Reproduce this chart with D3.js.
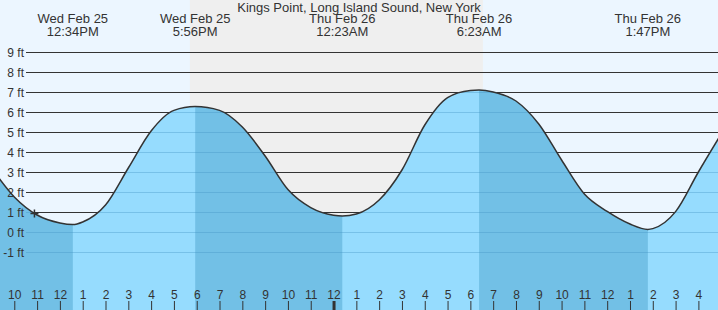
<!DOCTYPE html>
<html>
<head>
<meta charset="utf-8">
<script src="https://cdn.jsdelivr.net/npm/d3@7"></script>
<style>
body { margin: 0; background: #fff; }
svg { display: block; font-family: "Liberation Sans", Arial, sans-serif; }
</style>
</head>
<body>
<div></div>
<script>
var title = "Kings Point, Long Island Sound, New York";

// tide height readings (ft), hourly plus the turning points
var tideTimes = [
  "2026-02-25 09:00", "2026-02-25 10:00", "2026-02-25 11:00", "2026-02-25 12:00",
  "2026-02-25 12:34", "2026-02-25 13:00", "2026-02-25 14:00", "2026-02-25 15:00",
  "2026-02-25 16:00", "2026-02-25 17:00", "2026-02-25 17:56", "2026-02-25 19:00",
  "2026-02-25 20:00", "2026-02-25 21:00", "2026-02-25 22:00", "2026-02-25 23:00",
  "2026-02-26 00:00", "2026-02-26 00:23", "2026-02-26 01:00", "2026-02-26 02:00",
  "2026-02-26 03:00", "2026-02-26 04:00", "2026-02-26 05:00", "2026-02-26 06:00",
  "2026-02-26 06:23", "2026-02-26 07:00", "2026-02-26 08:00", "2026-02-26 09:00",
  "2026-02-26 10:00", "2026-02-26 11:00", "2026-02-26 12:00", "2026-02-26 13:00",
  "2026-02-26 13:47", "2026-02-26 14:00", "2026-02-26 15:00", "2026-02-26 16:00",
  "2026-02-26 17:00"
];
var tideFeet = [
  3.2, 1.75, 0.85, 0.45,
  0.37, 0.5, 1.35, 3.2,
  5.05, 6.08, 6.27, 6.08,
  5.25, 3.8, 2.12, 1.22,
  0.84, 0.8, 0.9, 1.6,
  3.1, 5.35, 6.72, 7.08,
  7.1, 7.0, 6.55, 5.4,
  3.6, 1.9, 1.03, 0.4,
  0.13, 0.17, 1.02, 3.0,
  4.9
];

var extremeTimes = ["2026-02-25 12:34", "2026-02-25 17:56", "2026-02-26 00:23", "2026-02-26 06:23", "2026-02-26 13:47"];
var extremeTypes = ["L", "H", "L", "H", "L"];

var sunset = "2026-02-25 17:42";
var sunrise = "2026-02-26 06:33";
var nowTime = "2026-02-25 10:53";
var nowFeet = 0.92;

var feetTicks = [-1, 0, 1, 2, 3, 4, 5, 6, 7, 8, 9];

function init() {
  var w = 718, h = 310;
  var parse = d3.timeParse("%Y-%m-%d %H:%M");

  var data = tideTimes.map(function(t, i) { return { t: parse(t), v: tideFeet[i] }; });

  var x = d3.scaleTime()
    .domain([new Date(2026, 1, 25, 9, 22, 23), new Date(2026, 1, 26, 16, 51, 35)])
    .range([0, w]);
  var y = d3.scaleLinear().domain([-1, 9]).range([252, 52]);

  var svg = d3.select("div").append("svg")
    .attr("width", w)
    .attr("height", h);

  // day / night
  svg.append("rect").attr("width", w).attr("height", h).attr("fill", "#ecf6ff");
  svg.append("rect")
    .attr("x", x(parse(sunset)))
    .attr("width", x(parse(sunrise)) - x(parse(sunset)))
    .attr("height", h)
    .attr("fill", "#efefef");

  // grid
  svg.selectAll(".grid")
    .data(feetTicks)
    .enter().append("line")
    .attr("x1", 26).attr("x2", w)
    .attr("y1", function(d) { return y(d) + 0.5; })
    .attr("y2", function(d) { return y(d) + 0.5; })
    .attr("stroke", "#333")
    .attr("stroke-width", 1);

  var area = d3.area()
    .curve(d3.curveMonotoneX)
    .x(function(d) { return x(d.t); })
    .y0(h)
    .y1(function(d) { return y(d.v); });

  var line = d3.line()
    .curve(d3.curveMonotoneX)
    .x(function(d) { return x(d.t); })
    .y(function(d) { return y(d.v); });

  svg.append("clipPath").attr("id", "water")
    .append("path").attr("d", area(data));

  svg.append("path").attr("d", area(data)).attr("fill", "#96dcfe");

  // falling tide is darker
  var ext = extremeTimes.map(parse);
  var falling = [];
  ext.forEach(function(t, i) {
    if (extremeTypes[i] == "L") {
      falling.push([i > 0 ? ext[i - 1] : x.domain()[0], t]);
    }
  });
  svg.append("g").attr("clip-path", "url(#water)")
    .selectAll("rect")
    .data(falling)
    .enter().append("rect")
    .attr("x", function(d) { return x(d[0]); })
    .attr("width", function(d) { return x(d[1]) - x(d[0]); })
    .attr("y", 0)
    .attr("height", h)
    .attr("fill", "#72c0e6");

  svg.append("g").attr("clip-path", "url(#water)")
    .selectAll("line")
    .data(feetTicks)
    .enter().append("line")
    .attr("x1", 26).attr("x2", w)
    .attr("y1", function(d) { return y(d) + 0.5; })
    .attr("y2", function(d) { return y(d) + 0.5; })
    .attr("stroke", "#3f8fc0")
    .attr("stroke-opacity", 0.35);

  svg.append("path")
    .attr("d", line(data))
    .attr("fill", "none")
    .attr("stroke", "#333")
    .attr("stroke-width", 1.5);

  // y labels
  svg.selectAll(".ylab")
    .data(feetTicks)
    .enter().append("text")
    .attr("x", 24)
    .attr("y", function(d) { return y(d) + 5; })
    .attr("text-anchor", "end")
    .attr("font-size", 12)
    .attr("fill", "#333")
    .text(function(d) { return d + " ft"; });

  // title and turning point labels
  svg.append("text")
    .attr("x", w / 2).attr("y", 12)
    .attr("text-anchor", "middle")
    .attr("font-size", 13)
    .attr("fill", "#333")
    .text(title);

  var fDay = d3.timeFormat("%a %b %d");
  var fTime = d3.timeFormat("%-I:%M%p");
  var lab = svg.selectAll(".ext")
    .data(ext)
    .enter().append("text")
    .attr("text-anchor", "middle")
    .attr("font-size", 13)
    .attr("fill", "#333");
  lab.append("tspan")
    .attr("x", function(d) { return x(d); })
    .attr("y", 23)
    .text(function(d) { return fDay(d); });
  lab.append("tspan")
    .attr("x", function(d) { return x(d); })
    .attr("y", 36)
    .text(function(d) { return fTime(d); });

  // hour axis
  var ax = svg.append("g")
    .attr("transform", "translate(0," + h + ")")
    .call(d3.axisTop(x)
      .ticks(d3.timeHour.every(1))
      .tickFormat(d3.timeFormat("%-I"))
      .tickSize(9)
      .tickPadding(2));
  ax.select(".domain").remove();
  ax.selectAll("text").attr("font-size", 12).attr("fill", "#333")
    .attr("font-family", "Liberation Sans, Arial, sans-serif");
  ax.selectAll("line").attr("stroke", "#333")
    .attr("stroke-width", function(d) { return d.getHours() == 0 ? 3 : 1; });

  // current time marker
  var nx = x(parse(nowTime)), ny = y(nowFeet);
  svg.append("path")
    .attr("d", "M" + (nx - 4) + "," + ny + "H" + (nx + 4) + "M" + nx + "," + (ny - 4) + "V" + (ny + 4))
    .attr("stroke", "#333")
    .attr("stroke-width", 1.5);
}

window.onload = init;
</script>
</body>
</html>
